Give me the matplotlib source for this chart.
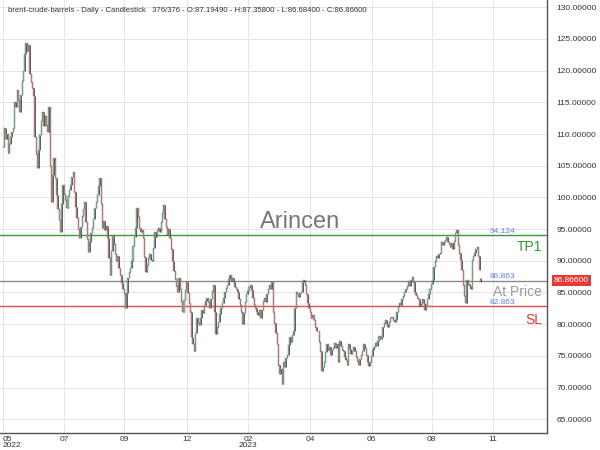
import matplotlib
matplotlib.use("Agg")
import matplotlib.pyplot as plt
import numpy as np

# ---------------- data ----------------
closes = [
    108.0, 111.0, 109.2, 110.0, 107.0, 108.5, 109.6, 110.4, 111.0, 115.0,
    114.2, 117.0, 115.4, 113.5, 116.2, 118.4, 120.0, 122.6, 124.3, 123.1,
    124.0, 119.5, 118.2, 117.3, 116.0, 109.5, 106.8, 104.7, 107.5, 109.9,
    112.0, 113.5, 111.2, 112.8, 111.5, 110.3, 114.3, 105.0, 99.3, 103.5,
    106.2, 103.0, 100.4, 98.1, 96.5, 94.6, 99.0, 102.0, 100.5, 99.6,
    98.4, 100.2, 101.1, 102.0, 103.2, 104.0, 100.8, 98.5, 96.8, 95.0,
    93.6, 95.4, 97.0, 98.1, 99.3, 96.2, 93.5, 91.4, 93.0, 94.4,
    95.2, 96.6, 98.3, 99.2, 100.4, 101.8, 103.1, 99.0, 95.2, 96.3,
    94.8, 95.5, 93.6, 90.4, 87.8, 91.5, 94.1, 92.6, 91.0, 89.9,
    90.8, 88.9, 87.8, 86.5, 85.6, 84.7, 82.5, 84.9, 87.3, 88.2,
    88.8, 89.9, 92.4, 93.8, 95.2, 98.4, 96.9, 95.2, 94.5, 94.9,
    93.6, 90.6, 88.3, 89.4, 90.4, 91.0, 90.2, 89.9, 92.0, 94.6,
    93.8, 94.9, 95.2, 94.6, 96.2, 97.5, 98.8, 96.6, 95.4, 94.1,
    95.0, 93.6, 91.8, 89.9, 88.4, 87.2, 86.0, 85.1, 87.3, 85.6,
    83.5, 82.0, 83.8, 85.4, 86.7, 84.9, 83.3, 82.0, 77.9, 76.9,
    75.7, 78.6, 81.0, 80.2, 79.9, 81.0, 82.3, 81.8, 83.1, 83.7,
    84.2, 83.5, 82.6, 84.0, 85.3, 86.2, 82.0, 78.4, 79.5, 80.4,
    81.6, 82.5, 83.4, 84.2, 85.0, 85.7, 86.2, 87.1, 87.8, 86.8,
    87.3, 86.6, 85.9, 85.5, 85.1, 84.0, 83.1, 81.9, 80.0, 81.8,
    83.5, 84.7, 85.3, 85.8, 86.2, 85.4, 84.2, 83.1, 82.6, 82.0,
    81.4, 82.2, 81.0, 82.3, 83.6, 84.2, 83.5, 84.7, 85.5, 86.2,
    85.6, 86.7, 82.0, 80.2, 78.6, 76.8, 73.6, 72.1, 73.0, 70.5,
    74.1, 73.2, 74.6, 75.2, 76.7, 77.9, 77.2, 78.3, 78.9, 82.6,
    85.1, 84.7, 84.3, 84.9, 85.1, 86.7, 86.9, 86.2, 84.7, 83.4,
    82.6, 82.0, 81.0, 81.5, 80.6, 79.5, 78.9, 78.9, 77.2, 75.7,
    72.6, 73.2, 74.1, 75.6, 76.8, 75.9, 76.4, 75.2, 75.9, 76.3,
    77.1, 76.2, 76.8, 74.1, 77.3, 76.6, 76.0, 75.7, 74.9, 74.3,
    73.6, 76.8, 76.1, 75.3, 75.7, 76.4, 75.7, 74.8, 74.2, 73.6,
    74.5, 75.1, 75.7, 76.8, 76.3, 75.2, 74.1, 73.4, 74.0, 75.0,
    76.0, 76.4, 77.0, 76.5, 77.4, 78.2, 77.6, 78.0, 79.6, 80.2,
    80.7, 80.1, 79.6, 80.4, 80.9, 81.2, 80.6, 80.3, 80.7, 81.9,
    82.8, 83.3, 83.0, 83.9, 84.5, 85.0, 85.6, 86.1, 86.6, 86.0,
    86.9, 87.5, 86.6, 85.0, 84.6, 84.2, 83.9, 82.8, 83.2, 83.9,
    83.3, 82.3, 83.1, 83.9, 84.8, 85.5, 86.3, 87.0, 89.1, 90.0,
    90.7, 90.4, 91.0, 91.3, 92.9, 92.5, 93.0, 93.3, 93.8, 92.9,
    92.6, 92.2, 92.8, 91.8, 93.1, 94.4, 94.9, 92.5, 91.3, 90.1,
    88.6, 86.2, 84.4, 83.4, 87.0, 86.4, 86.0, 85.5, 90.2, 90.8,
    91.3, 91.9, 92.2, 90.7, 88.6, 86.866,
]
last_open, last_high, last_low, last_close = 87.19490, 87.35800, 86.68400, 86.86600

tick_pos = [-0.2, 47.9, 94.9, 144.1, 192.2, 240.8, 289.2, 336.3, 384.4]
tick_labels = ["05\n2022", "07", "09", "12", "02\n2023", "04", "06", "08", "11"]

tp1_level = 94.124
at_price_level = 86.863
sl_level = 82.863
y_ticks = [65, 70, 75, 80, 85, 90, 95, 100, 105, 110, 115, 120, 125, 130]

# ---------------- derived OHLC ----------------
n = len(closes)
c = np.array(closes)
o = np.empty(n)
o[0] = closes[0]
o[1:] = c[:-1]
o[-1] = last_open
hi = np.maximum(o, c)
lo = np.minimum(o, c)
hi[-1] = last_high
lo[-1] = last_low
x = np.arange(n)

# ---------------- figure ----------------
plt.rcParams['font.family'] = ['Liberation Sans', 'DejaVu Sans']
fig = plt.figure(figsize=(6, 4.5), dpi=100)
ax = fig.add_axes([0.0, 1 - 433 / 450, 547 / 600, 433 / 450])

ax.set_xlim(-2.35, 426.8)
ax.set_ylim(62.83, 131.15)

ax.set_yticks(y_ticks)
ax.set_yticklabels([f"{v:.5f}" for v in y_ticks], fontsize=6, color="#333333")
ax.yaxis.tick_right()
ax.tick_params(axis="y", length=0, pad=7)
ax.set_xticks(tick_pos)
ax.set_xticklabels(tick_labels, fontsize=6, color="#333333", linespacing=0.9)
ax.tick_params(axis="x", length=0, pad=2)
lbl0 = ax.get_xticklabels()[0]
lbl0.set_horizontalalignment("left")

ax.grid(True, color="#e4e4e4", linewidth=0.7)
ax.set_axisbelow(True)
for s in ["left", "top"]:
    ax.spines[s].set_visible(False)
for s in ["right", "bottom"]:
    ax.spines[s].set_color("#555555")
    ax.spines[s].set_linewidth(1.0)

# candles
up = c >= o
ax.vlines(x, lo, hi, color="#444444", linewidth=0.6, zorder=3)
ax.bar(x[up], (c - o)[up], bottom=o[up], width=0.8, color="#7fcf9f",
       edgecolor="#555555", linewidth=0.25, zorder=4)
ax.bar(x[~up], (o - c)[~up], bottom=c[~up], width=0.8, color="#e88a8a",
       edgecolor="#555555", linewidth=0.25, zorder=4)

# levels
ax.axhline(tp1_level, color="#3a9a3a", linewidth=1.0, zorder=2)
ax.axhline(at_price_level, color="#8a8a8a", linewidth=1.0, zorder=2)
ax.axhline(sl_level, color="#e84a4a", linewidth=1.0, zorder=2)

lab_x = 382
ax.text(lab_x, 94.7, f"{tp1_level:.3f}", fontsize=6, color="#5b7fff", va="center", ha="left")
ax.text(lab_x, 87.6, f"{at_price_level:.3f}", fontsize=6, color="#5b7fff", va="center", ha="left")
ax.text(lab_x, 83.35, f"{sl_level:.3f}", fontsize=6, color="#5b7fff", va="center", ha="left")
ax.text(423, 92.2, "TP1", fontsize=10, color="#2e9a2e", va="center", ha="right")
ax.text(423, 85.1, "At Price", fontsize=10, color="#999999", va="center", ha="right")
ax.text(423, 80.65, "SL", fontsize=10, color="#e53935", va="center", ha="right")

# watermark
ax.text(233, 96.1, "Arincen", fontsize=17, color="#777777", va="center", ha="center", zorder=1)

# price box on the axis
ax.text(1.0 + 7 / 547, last_close, f"{last_close:.5f}", transform=ax.get_yaxis_transform(),
        fontsize=6, color="white", va="center", ha="left", zorder=10, clip_on=False,
        bbox=dict(boxstyle="square,pad=0.25", facecolor="#e53935", edgecolor="none"))

# header
fig.text(8 / 600, 1 - 10 / 450,
         f"brent-crude-barrels - Daily - Candlestick   {n}/{n} - O:{last_open:.5f} - "
         f"H:{last_high:.5f} - L:{last_low:.5f} - C:{last_close:.5f}",
         fontsize=5.6, color="#333333", va="center", ha="left")

fig.savefig("out.png", dpi=100)
